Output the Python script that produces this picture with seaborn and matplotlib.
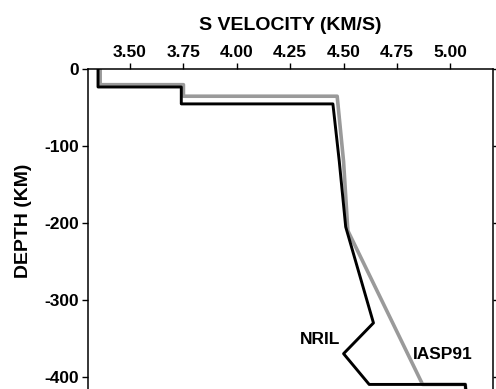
import matplotlib
matplotlib.use("Agg")
import matplotlib.pyplot as plt
import seaborn as sns
import pandas as pd

# IASP91 reference model (gray)
iasp_vel = [3.36, 3.36, 3.75, 3.75, 4.47, 4.50, 4.52, 4.87, 5.07, 5.08]
iasp_depth = [0, -20, -20, -35, -35, -120, -210, -410, -410, -440]
# NRIL model (black)
nril_vel = [3.35, 3.35, 3.74, 3.74, 4.45, 4.48, 4.51, 4.64, 4.50, 4.62, 5.07, 5.08]
nril_depth = [0, -23, -23, -45, -45, -120, -205, -330, -370, -410, -410, -440]

x_ticks = [3.50, 3.75, 4.00, 4.25, 4.50, 4.75, 5.00]
x_ticklabels = ["3.50", "3.75", "4.00", "4.25", "4.50", "4.75", "5.00"]
y_ticks = [0, -100, -200, -300, -400]
y_ticklabels = ["0", "-100", "-200", "-300", "-400"]

sns.set_style("white")
plt.rcParams['font.family'] = ['Liberation Sans', 'DejaVu Sans']
plt.rcParams['font.weight'] = 'bold'
plt.rcParams['text.color'] = 'black'
plt.rcParams['axes.labelcolor'] = 'black'

fig = plt.figure(figsize=(4.96, 3.89), dpi=100)
ax = fig.add_axes([0.1774, -0.008, 0.8166, 0.8298])

df_iasp = pd.DataFrame({"v": iasp_vel, "d": iasp_depth})
df_nril = pd.DataFrame({"v": nril_vel, "d": nril_depth})
sns.lineplot(data=df_iasp, x="v", y="d", sort=False, estimator=None,
             color="#9a9a9a", lw=2.6, ax=ax, zorder=2)
sns.lineplot(data=df_nril, x="v", y="d", sort=False, estimator=None,
             color="black", lw=2.1, ax=ax, zorder=3)

ax.set_xlim(3.303, 5.20)
ax.set_ylim(-420, 0)

ax.xaxis.tick_top()
ax.xaxis.set_label_position("top")
ax.set_xticks(x_ticks)
ax.set_xticklabels(x_ticklabels)
ax.set_yticks(y_ticks)
ax.set_yticklabels(y_ticklabels)
ax.tick_params(axis="both", which="both", direction="out", length=4.5, width=1.0,
               labelsize=12.5, pad=2, colors="black", labelcolor="black")
ax.tick_params(axis="x", top=True, bottom=False)
ax.tick_params(axis="y", left=True, right=True, labelright=False)
for lab in ax.get_xticklabels() + ax.get_yticklabels():
    lab.set_fontweight("bold")

for sp in ax.spines.values():
    sp.set_color("black")
    sp.set_linewidth(1.1)
    sp.set_visible(True)

ax.set_xlabel("S VELOCITY (KM/S)", fontsize=14, fontweight="bold", labelpad=11, color="black")
ax.set_ylabel("DEPTH (KM)", fontsize=14, fontweight="bold", color="black")
ax.yaxis.set_label_coords(-0.138, 0.53)

ax.text(4.39, -352, "NRIL", fontsize=12.5, fontweight="bold", ha="center", va="center", color="black")
ax.text(4.965, -371, "IASP91", fontsize=12.5, fontweight="bold", ha="center", va="center", color="black")

fig.savefig("out.png", dpi=100)
